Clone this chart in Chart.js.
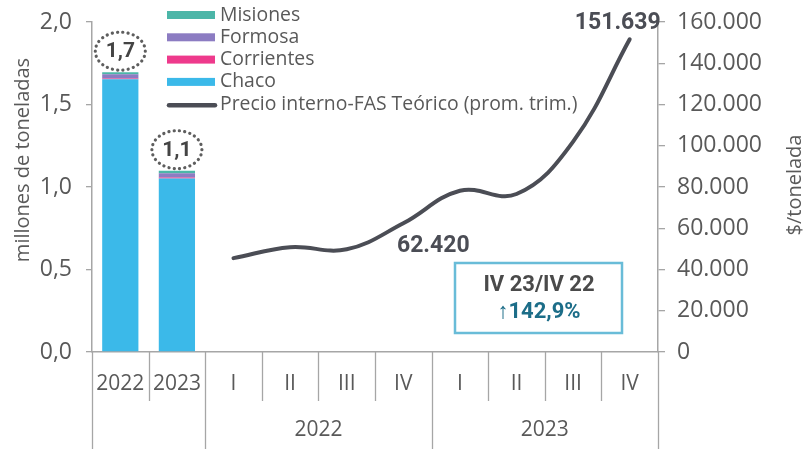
<!DOCTYPE html>
<html>
<head>
<meta charset="utf-8">
<script src="https://cdn.jsdelivr.net/npm/chart.js@4.4.1/dist/chart.umd.min.js"></script>
<style>
  html, body { margin: 0; padding: 0; background: #fff; }
  canvas { display: block; }
</style>
</head>
<body>
<canvas id="chart" width="808" height="449"></canvas>
<script>
/* Yerba / producción por provincia + precio interno FAS teórico */

const xLabels = ["2022", "2023", "I", "II", "III", "IV", "I", "II", "III", "IV"];
const groupLabels = ["2022", "2023"];
const groupFrom = [2, 6];
const groupTo = [5, 9];
const longSeparators = [0, 2, 6, 10];

const chaco = [1.653, 1.052, null, null, null, null, null, null, null, null];
const corrientes = [0.004, 0.006, null, null, null, null, null, null, null, null];
const formosa = [0.027, 0.026, null, null, null, null, null, null, null, null];
const misiones = [0.012, 0.015, null, null, null, null, null, null, null, null];
const precioFas = [null, null, 45500, 50800, 49800, 62420, 78200, 76600, 102000, 151639];

const yTicks = { min: 0, max: 2, step: 0.5 };
const y1Ticks = { min: 0, max: 160000, step: 20000 };

const FONT = "'Open Sans', 'DejaVu Sans', sans-serif";
const BOLD = "Roboto, 'Open Sans', sans-serif";
const TEXT = "#595959";
const AXIS = "#a6a6a6";

const COLORS = {
  chaco: "#3bb9e9",
  corrientes: "#ee3a8c",
  formosa: "#8c7cc2",
  misiones: "#4cb6a8",
  precio: "#4b4d55",
};

function fmtDec(v) { return v.toFixed(1).replace(".", ","); }
function fmtThousands(v) { return String(Math.round(v)).replace(/\B(?=(\d{3})+(?!\d))/g, "."); }

function noPad(s) {
  s.paddingTop = 0;
  s.paddingBottom = 0;
  s.paddingLeft = 0;
  s.paddingRight = 0;
}

const overlay = {
  id: "overlay",
  afterDraw(chart) {
    const ctx = chart.ctx;
    const x = chart.scales.x;
    const y = chart.scales.y;
    const area = chart.chartArea;
    const n = xLabels.length;
    const w = (x.right - x.left) / n;
    ctx.save();

    // separators under the axis
    ctx.strokeStyle = AXIS;
    ctx.lineWidth = 1.3;
    for (let i = 0; i <= n; i++) {
      const bx = Math.round(x.left + i * w) + 0.5;
      ctx.beginPath();
      ctx.moveTo(bx, area.bottom);
      ctx.lineTo(bx, longSeparators.includes(i) ? 449 : 401);
      ctx.stroke();
    }

    // category labels, two rows
    ctx.fillStyle = TEXT;
    ctx.textAlign = "center";
    ctx.textBaseline = "middle";
    ctx.font = `21px ${FONT}`;
    xLabels.forEach((lab, i) => ctx.fillText(lab, x.getPixelForValue(i), 384));
    groupLabels.forEach((lab, g) => {
      const cx = (x.getPixelForValue(groupFrom[g]) + x.getPixelForValue(groupTo[g])) / 2;
      ctx.fillText(lab, cx, 430);
    });

    // axis titles
    ctx.font = `20px ${FONT}`;
    ctx.save();
    ctx.translate(23, 160);
    ctx.rotate(-Math.PI / 2);
    ctx.fillText("millones de toneladas", 0, 0);
    ctx.restore();
    ctx.save();
    ctx.translate(795, 185);
    ctx.rotate(-Math.PI / 2);
    ctx.fillText("$/tonelada", 0, 0);
    ctx.restore();

    // legend
    const items = [3, 2, 1, 0, 4].map((d) => chart.data.datasets[d]);
    ctx.textAlign = "left";
    ctx.font = `19.4px ${FONT}`;
    items.forEach((ds, k) => {
      const ly = 15 + k * 22.3;
      if (ds.type === "line") {
        ctx.strokeStyle = ds.borderColor;
        ctx.lineWidth = 4.5;
        ctx.lineCap = "round";
        ctx.beginPath();
        ctx.moveTo(169, ly + 1);
        ctx.lineTo(215, ly + 1);
        ctx.stroke();
      } else {
        ctx.fillStyle = ds.backgroundColor;
        ctx.fillRect(167, ly - 4, 48, 8);
      }
      ctx.fillStyle = TEXT;
      ctx.fillText(ds.label, 220, ly);
    });

    // bar totals in dotted ellipses
    for (let i = 0; i < 2; i++) {
      const total = chaco[i] + corrientes[i] + formosa[i] + misiones[i];
      const cx = x.getPixelForValue(i);
      const cy = y.getPixelForValue(total) - 21;
      ctx.strokeStyle = "#5e5e5e";
      ctx.lineWidth = 3.2;
      ctx.lineCap = "round";
      ctx.setLineDash([0.1, 5.2]);
      ctx.beginPath();
      ctx.ellipse(cx, cy, 25, 19, 0, 0, Math.PI * 2);
      ctx.stroke();
      ctx.setLineDash([]);
      ctx.fillStyle = "#444";
      ctx.textAlign = "center";
      ctx.font = `bold 21px ${BOLD}`;
      ctx.fillText(fmtDec(total), cx, cy + 1);
    }

    // price labels
    const meta = chart.getDatasetMeta(4);
    const pIV22 = meta.data[5];
    const pIV23 = meta.data[9];
    ctx.fillStyle = "#4b4d55";
    ctx.font = `bold 23px ${BOLD}`;
    ctx.textAlign = "center";
    ctx.fillText(fmtThousands(precioFas[5]), pIV22.x + 30, pIV22.y + 23);
    ctx.textAlign = "right";
    ctx.fillText(fmtThousands(precioFas[9]), pIV23.x + 31, pIV23.y - 16);

    // variation box
    const pct = (precioFas[9] / precioFas[5] - 1) * 100;
    ctx.fillStyle = "#fff";
    ctx.fillRect(455, 263, 167, 70);
    ctx.strokeStyle = "#69bcd8";
    ctx.lineWidth = 2.5;
    ctx.strokeRect(455, 263, 167, 70);
    ctx.textAlign = "center";
    ctx.fillStyle = "#4a4a4a";
    ctx.font = `bold 22px ${BOLD}`;
    ctx.fillText("IV 23/IV 22", 539, 285);
    ctx.fillStyle = "#1c6d88";
    ctx.fillText("↑" + fmtDec(pct) + "%", 539, 312);

    ctx.restore();
  },
};

const barCommon = { type: "bar", yAxisID: "y", stack: "prov", barPercentage: 0.8, categoryPercentage: 0.8 };

new Chart(document.getElementById("chart"), {
  data: {
    labels: xLabels,
    datasets: [
      { ...barCommon, label: "Chaco", data: chaco, backgroundColor: COLORS.chaco },
      { ...barCommon, label: "Corrientes", data: corrientes, backgroundColor: COLORS.corrientes },
      { ...barCommon, label: "Formosa", data: formosa, backgroundColor: COLORS.formosa },
      { ...barCommon, label: "Misiones", data: misiones, backgroundColor: COLORS.misiones },
      {
        type: "line", label: "Precio interno-FAS Teórico (prom. trim.)", data: precioFas, yAxisID: "y1",
        borderColor: COLORS.precio, backgroundColor: COLORS.precio, borderWidth: 4,
        pointRadius: 0, tension: 0.4, borderCapStyle: "round",
      },
    ],
  },
  options: {
    responsive: false,
    animation: false,
    layout: { padding: { top: 22, left: 0, right: 0, bottom: 0 } },
    plugins: { legend: { display: false }, tooltip: { enabled: false } },
    scales: {
      x: {
        offset: true,
        grid: { display: false },
        border: { display: true, color: AXIS, width: 1.5 },
        ticks: { display: false },
        afterFit: (s) => { s.height = 97; noPad(s); },
      },
      y: {
        position: "left",
        min: yTicks.min, max: yTicks.max,
        grid: { drawOnChartArea: false, color: AXIS, tickLength: 6, lineWidth: 1.3 },
        border: { color: AXIS, width: 1.5 },
        ticks: { stepSize: yTicks.step, padding: 14, color: TEXT, font: { family: FONT, size: 23 }, callback: (v) => fmtDec(v) },
        afterFit: (s) => { s.width = 92; noPad(s); },
      },
      y1: {
        position: "right",
        min: y1Ticks.min, max: y1Ticks.max,
        grid: { drawOnChartArea: false, color: AXIS, tickLength: 7, lineWidth: 1.3 },
        border: { color: AXIS, width: 1.5 },
        ticks: { stepSize: y1Ticks.step, padding: 12, color: TEXT, font: { family: FONT, size: 23 }, callback: (v) => fmtThousands(v) },
        afterFit: (s) => { s.width = 150; noPad(s); },
      },
    },
  },
  plugins: [overlay],
});
</script>
</body>
</html>
